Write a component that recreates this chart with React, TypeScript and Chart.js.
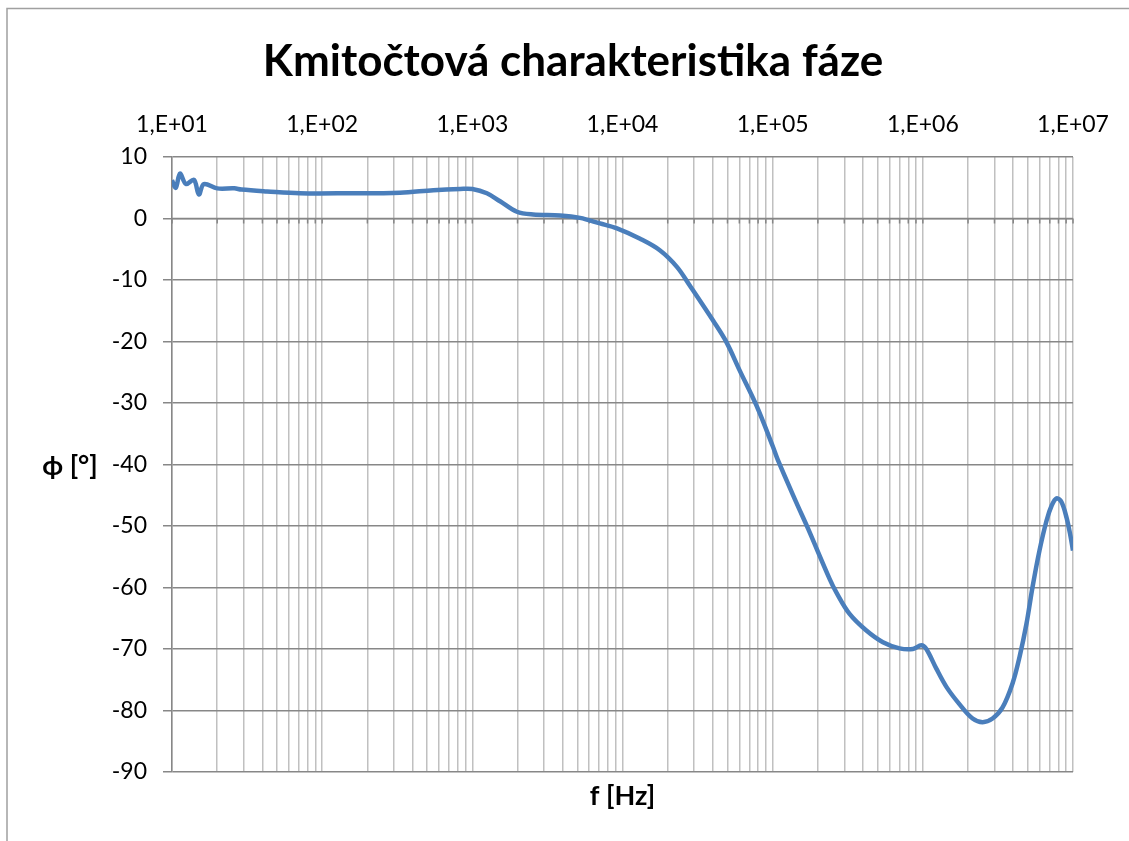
import React, { useEffect, useRef } from "react";
import { Chart, registerables } from "chart.js";

Chart.register(...registerables);

const chartTitle = "Kmitočtová charakteristika fáze";
const xAxisTitle = "f [Hz]";
const yAxisTitle = "ϕ [°]";

const frequencies = [
  10, 10.6, 11.3, 12.4, 14.0, 15.1, 16.3, 20, 26, 29, 43, 71, 150, 330, 550, 830, 1000,
  1250, 1530, 1980, 2540, 3840, 5210, 7080, 9190, 13100, 17800, 23100, 28050, 40090,
  49200, 60260, 77940, 100000, 108400, 143800, 171800, 239400, 265400, 325200, 420700,
  542300, 699800, 858400, 977000, 1055000, 1230000, 1439000, 1757000, 2145000, 2500000,
  2913000, 3396000, 3956000, 4405000, 4900000, 5370000, 5980000, 6670000, 7200000,
  7770000, 8380000, 9050000, 9600000, 10000000,
];

const phases = [
  6.2, 5.0, 7.3, 5.6, 6.3, 3.9, 5.6, 4.9, 4.9, 4.7, 4.4, 4.1, 4.1, 4.2, 4.6, 4.8, 4.8,
  4.1, 2.8, 1.1, 0.65, 0.5, 0.1, -0.8, -1.6, -3.3, -5.2, -7.9, -10.9, -16.6,
  -20.1, -24.7, -30.4, -37.0, -39.3, -46.2, -50.4, -58.6, -60.8, -64.3, -67.0,
  -68.9, -69.9, -70.0, -69.4, -70.0, -73.2, -76.2, -79.0, -81.3, -81.9,
  -81.3, -79.5, -75.6, -71.3, -65.9, -60.0, -54.0, -49.1, -46.7,
  -45.5, -46.1, -48.6, -51.5, -54.0,
];

const decadeExponents = [1, 2, 3, 4, 5, 6, 7];
const decadeMultipliers = [1, 2, 3, 4, 5, 6, 7, 8, 9];
const yMin = -90;
const yMax = 10;
const yStep = 10;

const xTickValues: number[] = [];
decadeExponents.forEach((e, i) => {
  if (i === decadeExponents.length - 1) {
    xTickValues.push(Math.pow(10, e));
  } else {
    decadeMultipliers.forEach((m) => xTickValues.push(m * Math.pow(10, e)));
  }
});

const FONT = "Lato, 'Open Sans', 'DejaVu Sans', sans-serif";

const decorPlugin = {
  id: "decor",
  beforeDraw(chart: any) {
    const ctx = chart.ctx;
    ctx.save();
    ctx.fillStyle = "#ffffff";
    ctx.fillRect(0, 0, chart.width, chart.height);
    ctx.strokeStyle = "#a0a0a0";
    ctx.lineWidth = 1.5;
    ctx.beginPath();
    ctx.moveTo(7, chart.height);
    ctx.lineTo(7, 8.5);
    ctx.lineTo(chart.width, 8.5);
    ctx.stroke();
    // title
    ctx.fillStyle = "#000";
    ctx.font = `bold 44px ${FONT}`;
    ctx.textAlign = "center";
    ctx.textBaseline = "alphabetic";
    ctx.fillText(chartTitle, 573, 76);
    ctx.restore();
  },
  beforeDatasetsDraw(chart: any) {
    const ctx = chart.ctx;
    const xs = chart.scales.x;
    const ys = chart.scales.y;
    const area = chart.chartArea;
    const y0 = ys.getPixelForValue(0);
    ctx.save();
    ctx.strokeStyle = "#868686";
    ctx.lineWidth = 1.5;
    ctx.beginPath();
    ctx.moveTo(area.left, y0);
    ctx.lineTo(area.right, y0);
    xTickValues.forEach((v) => {
      const px = xs.getPixelForValue(v);
      ctx.moveTo(px, y0);
      ctx.lineTo(px, y0 + 5);
    });
    ctx.stroke();
    ctx.restore();
  },
  afterDraw(chart: any) {
    const ctx = chart.ctx;
    const area = chart.chartArea;
    ctx.save();
    ctx.fillStyle = "#000";
    ctx.font = `bold 27px ${FONT}`;
    ctx.textAlign = "center";
    ctx.textBaseline = "middle";
    ctx.fillText(yAxisTitle, 70, (area.top + area.bottom) / 2 + 2);
    ctx.fillText(xAxisTitle, (area.left + area.right) / 2, 796);
    ctx.restore();
  },
};

export default function App() {
  const canvasRef = useRef<HTMLCanvasElement | null>(null);

  useEffect(() => {
    if (!canvasRef.current) return;
    const data = frequencies.map((f, i) => ({ x: f, y: phases[i] }));
    const chart = new Chart(canvasRef.current, {
      type: "line",
      data: {
        datasets: [
          {
            data,
            borderColor: "#4a7ebb",
            borderWidth: 4.5,
            pointRadius: 0,
            fill: false,
            tension: 0.35,
          },
        ],
      },
      options: {
        animation: false,
        responsive: false,
        devicePixelRatio: 1,
        layout: { padding: { left: 72, right: 56, top: 97, bottom: 69 } },
        plugins: {
          legend: { display: false },
          title: { display: false },
          tooltip: { enabled: false },
        },
        scales: {
          x: {
            type: "logarithmic",
            position: "top",
            min: 10,
            max: 1e7,
            afterBuildTicks: (scale: any) => {
              scale.ticks = xTickValues.map((v) => ({ value: v }));
            },
            afterFit: (scale: any) => {
              scale.height = 60;
            },
            ticks: {
              autoSkip: false,
              maxRotation: 0,
              padding: 19,
              color: "#000",
              font: { family: FONT, size: 23 },
              callback: (value: any) => {
                const e = Math.log10(Number(value));
                if (Math.abs(e - Math.round(e)) < 1e-9) {
                  return `1,E+${String(Math.round(e)).padStart(2, "0")}`;
                }
                return "";
              },
            },
            grid: { color: "#c0c0c0", lineWidth: 1.5, drawTicks: false },
            border: { display: false },
          },
          y: {
            type: "linear",
            min: yMin,
            max: yMax,
            afterFit: (scale: any) => {
              scale.width = 100;
            },
            ticks: {
              stepSize: yStep,
              padding: 16,
              color: "#000",
              font: { family: FONT, size: 23 },
            },
            grid: { color: "#878787", lineWidth: 1.5, tickLength: 9, tickColor: "#878787" },
            border: { color: "#878787", width: 1.5 },
          },
        },
      },
      plugins: [decorPlugin],
    });
    return () => chart.destroy();
  }, []);

  return (
    <canvas
      ref={canvasRef}
      width={1129}
      height={841}
      style={{ position: "absolute", left: 0, top: 0, width: 1129, height: 841 }}
    />
  );
}
